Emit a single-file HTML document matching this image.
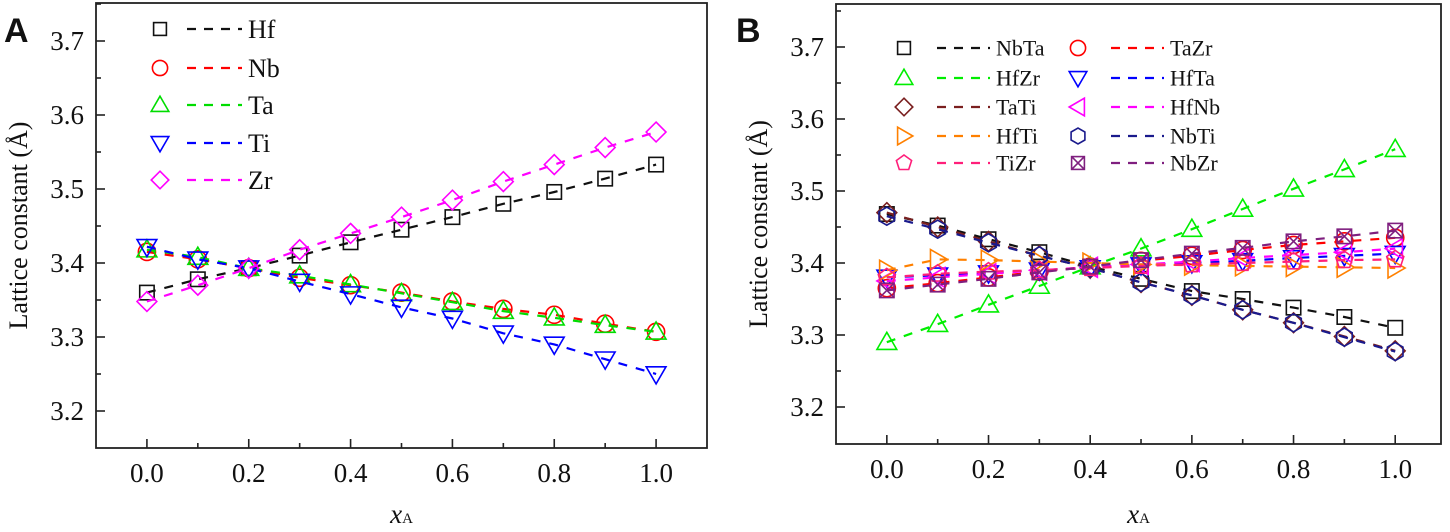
<!DOCTYPE html>
<html><head><meta charset="utf-8"><style>
body{margin:0;background:#fff;width:1450px;height:532px;overflow:hidden}
svg{display:block}
text{font-family:"Liberation Serif",serif;fill:#111}
</style></head><body>
<svg id="chart" width="1450" height="532" viewBox="0 0 1450 532" xmlns="http://www.w3.org/2000/svg"></svg>
<script>
const xValues=[0,0.1,0.2,0.3,0.4,0.5,0.6,0.7,0.8,0.9,1.0];
const xTicks=["0.0","0.2","0.4","0.6","0.8","1.0"];
const yTicks=["3.2","3.3","3.4","3.5","3.6","3.7"];
// Panel A
const seriesANames=["Hf","Nb","Ta","Ti","Zr"];
const hfA=[3.36,3.378,3.393,3.41,3.428,3.445,3.462,3.48,3.496,3.514,3.533];
const nbA=[3.415,3.405,3.393,3.38,3.37,3.36,3.348,3.338,3.33,3.318,3.307];
const taA=[3.418,3.408,3.393,3.383,3.371,3.359,3.347,3.335,3.326,3.316,3.307];
const tiA=[3.422,3.405,3.393,3.375,3.358,3.34,3.325,3.305,3.29,3.27,3.25];
const zrA=[3.348,3.37,3.393,3.418,3.44,3.462,3.485,3.51,3.533,3.556,3.577];
// Panel B
const seriesBNames=["NbTa","TaZr","HfZr","HfTa","TaTi","HfNb","HfTi","NbTi","TiZr","NbZr"];
const nbta=[3.468,3.452,3.433,3.415,3.395,3.378,3.361,3.35,3.338,3.325,3.31];
const tazr=[3.365,3.372,3.38,3.388,3.395,3.403,3.41,3.418,3.425,3.43,3.435];
const hfzr=[3.29,3.315,3.342,3.368,3.395,3.42,3.447,3.475,3.503,3.53,3.558];
const hfta=[3.38,3.383,3.386,3.39,3.393,3.397,3.4,3.403,3.407,3.41,3.413];
const tati=[3.47,3.45,3.43,3.41,3.393,3.373,3.355,3.335,3.317,3.298,3.278];
const hfnb=[3.375,3.38,3.385,3.39,3.394,3.398,3.402,3.407,3.411,3.415,3.42];
const hfti=[3.39,3.405,3.404,3.402,3.4,3.398,3.397,3.396,3.395,3.394,3.393];
const nbti=[3.465,3.447,3.428,3.41,3.393,3.373,3.355,3.335,3.317,3.297,3.277];
const tizr=[3.38,3.385,3.388,3.39,3.393,3.396,3.398,3.4,3.402,3.404,3.405];
const nbzr=[3.362,3.37,3.378,3.387,3.395,3.404,3.413,3.421,3.43,3.437,3.445];

const NS="http://www.w3.org/2000/svg";
const svg=document.getElementById('chart');
function mk(tag,attrs,parent){const e=document.createElementNS(NS,tag);for(const k in attrs)e.setAttribute(k,attrs[k]);(parent||svg).appendChild(e);return e;}

function marker(g,shape,cx,cy,color,s){
  const a={fill:'none',stroke:color,'stroke-width':1.6};
  let e;
  if(shape==='square'){e=mk('rect',Object.assign({x:cx-s*0.8,y:cy-s*0.8,width:s*1.6,height:s*1.6},a),g);}
  else if(shape==='circle'){e=mk('circle',Object.assign({cx:cx,cy:cy,r:s*0.95},a),g);}
  else if(shape==='up'){e=mk('polygon',Object.assign({points:`${cx},${cy-s*1.1} ${cx-s*1.1},${cy+s*0.8} ${cx+s*1.1},${cy+s*0.8}`},a),g);}
  else if(shape==='down'){e=mk('polygon',Object.assign({points:`${cx},${cy+s*1.1} ${cx-s*1.1},${cy-s*0.8} ${cx+s*1.1},${cy-s*0.8}`},a),g);}
  else if(shape==='left'){e=mk('polygon',Object.assign({points:`${cx-s*1.1},${cy} ${cx+s*0.8},${cy-s*1.1} ${cx+s*0.8},${cy+s*1.1}`},a),g);}
  else if(shape==='right'){e=mk('polygon',Object.assign({points:`${cx+s*1.1},${cy} ${cx-s*0.8},${cy-s*1.1} ${cx-s*0.8},${cy+s*1.1}`},a),g);}
  else if(shape==='diamond'){e=mk('polygon',Object.assign({points:`${cx},${cy-s*1.1} ${cx+s*1.1},${cy} ${cx},${cy+s*1.1} ${cx-s*1.1},${cy}`},a),g);}
  else if(shape==='hex'){let p=[];for(let i=0;i<6;i++){const t=Math.PI/6+i*Math.PI/3;p.push((cx+s*Math.cos(t)).toFixed(1)+','+(cy+s*Math.sin(t)).toFixed(1));}
    e=mk('polygon',Object.assign({points:p.join(' ')},a),g);}
  else if(shape==='pent'){let p=[];for(let i=0;i<5;i++){const t=-Math.PI/2+i*2*Math.PI/5;p.push((cx+s*Math.cos(t)).toFixed(1)+','+(cy+s*Math.sin(t)).toFixed(1));}
    e=mk('polygon',Object.assign({points:p.join(' ')},a),g);}
  else if(shape==='xsq'){const h=s*0.8;mk('rect',Object.assign({x:cx-h,y:cy-h,width:2*h,height:2*h},a),g);
    e=mk('path',Object.assign({d:`M${cx-h},${cy-h}L${cx+h},${cy+h}M${cx+h},${cy-h}L${cx-h},${cy+h}`},a),g);}
  return e;
}

function panel(p){
  const g=mk('g',{});
  
  
  const X=v=>p.x0+(v-p.xmin)/(p.xmax-p.xmin)*(p.x1-p.x0);
  const Y=v=>p.y1-(v-p.ymin)/(p.ymax-p.ymin)*(p.y1-p.y0);
  const fr=mk('rect',{x:p.x0,y:p.y0,width:p.x1-p.x0,height:p.y1-p.y0,fill:'none',stroke:'#222','stroke-width':1.8},g);
  
  
  for(let i=0;i<=10;i++){const v=i/10,x=X(v),len=i%2===0?9:5;
    mk('line',{x1:x,x2:x,y1:p.y1,y2:p.y1-len,stroke:'#222','stroke-width':1.6},g);}
  xTicks.forEach(t=>{const tx=mk('text',{x:X(parseFloat(t)),y:p.y1+34,'text-anchor':'middle','font-size':27},g);tx.textContent=t;
    
    });
  for(let k=0;k<=11;k++){const v=3.2+k*0.05;if(v>p.ymax)break;const y=Y(v),len=k%2===0?9:5;
    mk('line',{x1:p.x0,x2:p.x0+len,y1:y,y2:y,stroke:'#222','stroke-width':1.6},g);}
  yTicks.forEach(t=>{const ty=mk('text',{x:p.x0-12,y:Y(parseFloat(t))+9,'text-anchor':'end','font-size':27},g);ty.textContent=t;
    
    });
  const yt=mk('text',{x:0,y:0,'text-anchor':'middle','font-size':26,transform:`translate(${p.x0-69},${(p.y0+p.y1)/2}) rotate(-90)`},g);
  yt.textContent='Lattice constant (Å)';
  
  
  const xt=mk('text',{x:(p.x0+p.x1)/2,y:523,'text-anchor':'middle','font-size':27,'font-style':'italic'},g);
  xt.innerHTML='x<tspan font-size="15" font-style="normal">A</tspan>';
  
  
  const lt=mk('text',{x:p.letterX,y:42,'font-size':34,'font-weight':'bold',style:'font-family:"Liberation Sans",sans-serif'},g);
  lt.textContent=p.id==='panel-a'?'A':'B';
  
  
  p.series.forEach(s=>{
    const sg=mk('g',{},g);
    
    
    const d=xValues.map((v,i)=>(i?'L':'M')+X(v).toFixed(1)+','+Y(s.data[i]).toFixed(1)).join('');
    mk('path',{d:d,fill:'none',stroke:s.color,'stroke-width':2.2,'stroke-dasharray':'9 9'},sg);
    xValues.forEach((v,i)=>{const m=marker(sg,s.shape,X(v),Y(s.data[i]),s.color,p.ms);
      
      });
    const lg=mk('g',{},g);
    
    
    marker(lg,s.shape,s.lx,s.ly,s.color,p.lms);
    mk('line',{x1:s.lx+p.dash0,x2:s.lx+p.dash1,y1:s.ly,y2:s.ly,stroke:s.color,'stroke-width':2.2,'stroke-dasharray':'9 8'},lg);
    const t=mk('text',{x:s.lx+p.tx,y:s.ly+p.lfs*0.35,'font-size':p.lfs},lg);t.textContent=s.name;
  });
}

const rowsA=[29,68,105,143,180];
panel({id:'panel-a',x0:96,x1:707,y0:3,y1:448,xmin:-0.1,xmax:1.1,ymin:3.2-37/740,ymax:3.2+445/740-37/740,letterX:4,ms:9,lms:8,dash0:27,dash1:82,tx:88,lfs:26,
  series:[
   {name:'Hf',data:hfA,color:'#111',shape:'square',lx:160,ly:rowsA[0]},
   {name:'Nb',data:nbA,color:'#f00',shape:'circle',lx:160,ly:rowsA[1]},
   {name:'Ta',data:taA,color:'#0d0',shape:'up',lx:160,ly:rowsA[2]},
   {name:'Ti',data:tiA,color:'#00f',shape:'down',lx:160,ly:rowsA[3]},
   {name:'Zr',data:zrA,color:'#f0f',shape:'diamond',lx:160,ly:rowsA[4]}
  ]});
const rowsB=[48,78,107,136,163];
const c1=904,c2=1078;
panel({id:'panel-b',x0:836,x1:1441,y0:4,y1:444,xmin:-0.1,xmax:(1441-886.7)/508.5,ymin:3.2-37/720,ymax:3.2+403/720,letterX:736,ms:9,lms:8,dash0:33,dash1:86,tx:92,lfs:22,
  series:[
   {name:'NbTa',data:nbta,color:'#111',shape:'square',lx:c1,ly:rowsB[0]},
   {name:'TaZr',data:tazr,color:'#f00',shape:'circle',lx:c2,ly:rowsB[0]},
   {name:'HfZr',data:hfzr,color:'#0e0',shape:'up',lx:c1,ly:rowsB[1]},
   {name:'HfTa',data:hfta,color:'#00f',shape:'down',lx:c2,ly:rowsB[1]},
   {name:'TaTi',data:tati,color:'#7a1f1f',shape:'diamond',lx:c1,ly:rowsB[2]},
   {name:'HfNb',data:hfnb,color:'#f0f',shape:'left',lx:c2,ly:rowsB[2]},
   {name:'HfTi',data:hfti,color:'#ff8000',shape:'right',lx:c1,ly:rowsB[3]},
   {name:'NbTi',data:nbti,color:'#1a1a8c',shape:'hex',lx:c2,ly:rowsB[3]},
   {name:'TiZr',data:tizr,color:'#ff1f7a',shape:'pent',lx:c1,ly:rowsB[4]},
   {name:'NbZr',data:nbzr,color:'#7f1f7f',shape:'xsq',lx:c2,ly:rowsB[4]}
  ]});
</script>
</body></html>
